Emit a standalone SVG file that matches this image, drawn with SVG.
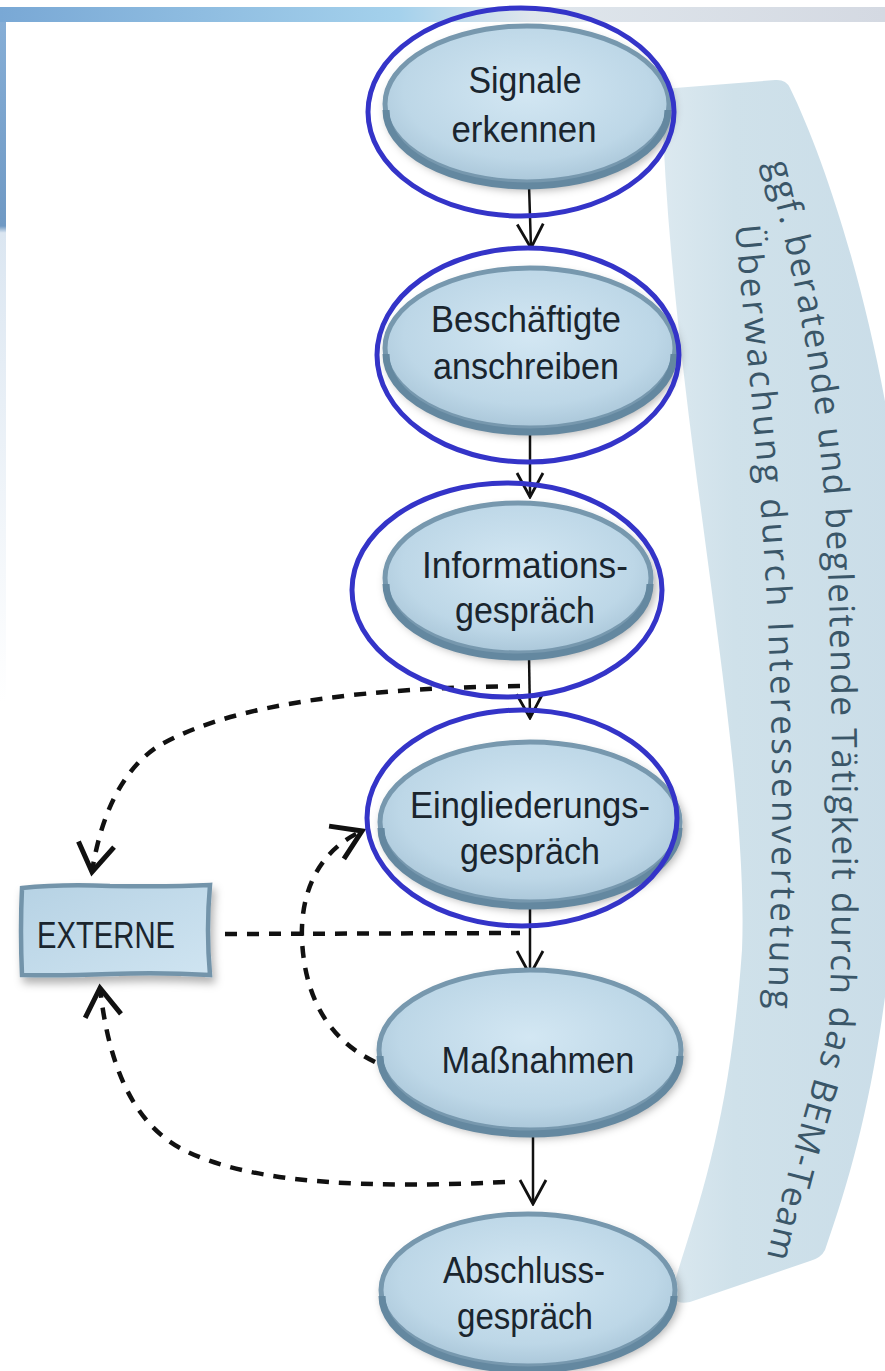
<svg xmlns="http://www.w3.org/2000/svg" width="885" height="1371" viewBox="0 0 885 1371">
  <defs>
    <style>
      .lbl { font-family: "Liberation Sans", Arial, sans-serif; font-size: 37px; fill: #1a252e; text-anchor: middle; }
      .node-shape { fill: url(#nodeFill); stroke: #7798ae; stroke-width: 5; filter: url(#sh); }
      .node-under { fill: none; stroke: #6488a0; stroke-width: 7; }
      .ring { fill: none; stroke: #3434c8; stroke-width: 5; }
      .solid { fill: none; stroke: #111; stroke-width: 2.5; marker-end: url(#solidHead); }
      .dash { fill: none; stroke: #111; stroke-width: 4.5; stroke-dasharray: 12 10; }
      .dash-arrow { marker-end: url(#dashHead); }
      .bandtxt { font-family: "Open Sans", "DejaVu Sans", sans-serif; font-size: 35px; fill: #3a5668; }
    </style>
    <radialGradient id="nodeFill" cx="50%" cy="42%" r="62%">
      <stop offset="0" stop-color="#d3e7f3"/>
      <stop offset="0.7" stop-color="#bdd7e7"/>
      <stop offset="1" stop-color="#a6c3d6"/>
    </radialGradient>
    <linearGradient id="boxFill" x1="0" y1="0" x2="1" y2="1">
      <stop offset="0" stop-color="#b6d2e4"/>
      <stop offset="1" stop-color="#cfe4f1"/>
    </linearGradient>
    <linearGradient id="topBand" x1="0" y1="0" x2="1" y2="0">
      <stop offset="0" stop-color="#79a8d5"/>
      <stop offset="0.45" stop-color="#a4d1ec"/>
      <stop offset="0.6" stop-color="#dfe6ec"/>
      <stop offset="1" stop-color="#d4d9e2"/>
    </linearGradient>
    <linearGradient id="leftStrip" x1="0" y1="0" x2="0" y2="1">
      <stop offset="0" stop-color="#86aed6"/>
      <stop offset="0.3" stop-color="#6f99c4"/>
      <stop offset="0.31" stop-color="#dbe6f1"/>
      <stop offset="1" stop-color="#ffffff"/>
    </linearGradient>
    <linearGradient id="bandFill" x1="0" y1="0" x2="1" y2="0">
      <stop offset="0" stop-color="#dce9f0"/>
      <stop offset="0.3" stop-color="#cfe1ea"/>
      <stop offset="1" stop-color="#cadde8"/>
    </linearGradient>
    <filter id="sh" x="-20%" y="-20%" width="140%" height="150%">
      <feDropShadow dx="3" dy="6" stdDeviation="4" flood-color="#000" flood-opacity="0.3"/>
    </filter>
    <marker id="solidHead" viewBox="-2 -2 28 30" refX="24" refY="13" markerWidth="28" markerHeight="30" markerUnits="userSpaceOnUse" orient="auto">
      <path d="M 0 0 L 24 13 L 0 26" fill="none" stroke="#111" stroke-width="2.8"/>
    </marker>
    <marker id="dashHead" viewBox="-3 -3 36 46" refX="28" refY="20" markerWidth="36" markerHeight="46" markerUnits="userSpaceOnUse" orient="auto">
      <path d="M 0 2 L 28 20 L 0 38" fill="none" stroke="#111" stroke-width="5"/>
    </marker>
    <path id="p1" d="M 762 150 C 792 260, 817 380, 826 520 C 834 700, 834 900, 829 1030 C 817 1070, 792 1150, 764 1270"/>
    <path id="p2" d="M 734 215 C 749 380, 770 550, 772 760 C 773 880, 769 950, 768 1015"/>
  </defs>

  <rect x="0" y="0" width="885" height="1371" fill="#ffffff"/>
  <g id="frame">
    <rect x="0" y="7" width="885" height="15" fill="url(#topBand)"/>
    <rect x="0" y="22" width="6" height="680" fill="url(#leftStrip)"/>
  </g>

  <g id="band">
    <path d="M 662 100 Q 661 90 675 88 L 775 80 Q 786 79 790 88 C 830 170, 880 330, 900 500 L 900 850 C 885 1050, 860 1150, 825 1250 Q 821 1258 810 1261 L 690 1302 Q 672 1306 672 1290 C 700 1200, 730 1120, 742 950 C 750 750, 670 400, 662 100 Z" fill="url(#bandFill)"/>
    <text class="bandtxt"><textPath href="#p1" startOffset="14" textLength="1108" lengthAdjust="spacing">ggf. beratende und begleitende Tätigkeit durch das BEM-Team</textPath></text>
    <text class="bandtxt"><textPath href="#p2" startOffset="11" textLength="784" lengthAdjust="spacing">Überwachung durch Interessenvertetung</textPath></text>
  </g>

  <g id="connectors">
    <path class="solid" d="M 529 185 L 531 248"/>
    <path class="solid" d="M 530 432 L 530 497"/>
    <path class="solid" d="M 529 655 L 530 718"/>
    <path class="solid" d="M 530 903 L 530 975"/>
    <path class="solid" d="M 533 1132 L 533 1204"/>
    <path class="dash dash-arrow" d="M 520 686 C 380 688, 240 700, 160 745 C 120 770, 100 820, 92 872"/>
    <path class="dash dash-arrow" d="M 375 1062 C 330 1040, 305 1000, 302 940 C 300 890, 320 850, 362 831"/>
    <path class="dash" d="M 225 934 L 520 933"/>
    <path class="dash dash-arrow" d="M 505 1182 C 380 1188, 250 1186, 180 1148 C 130 1120, 108 1060, 100 988"/>
  </g>

  <g id="node-signale">
    <ellipse class="node-shape" cx="527" cy="104" rx="142" ry="78"/>
    <path class="node-under" d="M 386 110 A 141 76 0 0 0 668 110"/>
    <text class="lbl" x="525" y="93" textLength="113" lengthAdjust="spacingAndGlyphs">Signale</text>
    <text class="lbl" x="524" y="142" textLength="145" lengthAdjust="spacingAndGlyphs">erkennen</text>
  </g>

  <g id="node-anschreiben">
    <ellipse class="node-shape" cx="530" cy="348" rx="145" ry="80"/>
    <path class="node-under" d="M 386 354 A 144 78 0 0 0 674 354"/>
    <text class="lbl" x="526" y="332" textLength="190" lengthAdjust="spacingAndGlyphs">Beschäftigte</text>
    <text class="lbl" x="526" y="379" textLength="186" lengthAdjust="spacingAndGlyphs">anschreiben</text>
  </g>

  <g id="node-information">
    <ellipse class="node-shape" cx="518" cy="578" rx="133" ry="75"/>
    <path class="node-under" d="M 386 584 A 132 73 0 0 0 650 584"/>
    <text class="lbl" x="525" y="578" textLength="206" lengthAdjust="spacingAndGlyphs">Informations-</text>
    <text class="lbl" x="525" y="623" textLength="140" lengthAdjust="spacingAndGlyphs">gespräch</text>
  </g>

  <g id="node-eingliederung">
    <ellipse class="node-shape" cx="530" cy="822" rx="150" ry="80"/>
    <path class="node-under" d="M 381 828 A 149 78 0 0 0 679 828"/>
    <text class="lbl" x="530" y="818" textLength="240" lengthAdjust="spacingAndGlyphs">Eingliederungs-</text>
    <text class="lbl" x="530" y="864" textLength="140" lengthAdjust="spacingAndGlyphs">gespräch</text>
  </g>

  <g id="node-massnahmen">
    <ellipse class="node-shape" cx="530" cy="1050" rx="151" ry="80"/>
    <path class="node-under" d="M 380 1056 A 150 78 0 0 0 680 1056"/>
    <text class="lbl" x="538" y="1073" textLength="193" lengthAdjust="spacingAndGlyphs">Maßnahmen</text>
  </g>

  <g id="node-abschluss">
    <ellipse class="node-shape" cx="528" cy="1290" rx="147" ry="76"/>
    <path class="node-under" d="M 382 1296 A 146 74 0 0 0 674 1296"/>
    <text class="lbl" x="524" y="1283" textLength="162" lengthAdjust="spacingAndGlyphs">Abschluss-</text>
    <text class="lbl" x="525" y="1329" textLength="136" lengthAdjust="spacingAndGlyphs">gespräch</text>
  </g>

  <g id="node-externe">
    <path d="M 22 888 Q 60 884 110 886 Q 170 887 210 885 Q 206 930 210 975 Q 160 972 110 974 Q 60 976 22 975 Q 20 930 22 888 Z" fill="url(#boxFill)" stroke="#7394aa" stroke-width="4.5" filter="url(#sh)"/>
    <text class="lbl" x="106" y="948" font-size="42" textLength="138" lengthAdjust="spacingAndGlyphs">EXTERNE</text>
  </g>

  <g id="highlights">
    <ellipse class="ring" cx="521" cy="112" rx="153" ry="104"/>
    <ellipse class="ring" cx="528" cy="355" rx="151" ry="107"/>
    <ellipse class="ring" cx="507" cy="590" rx="155" ry="107"/>
    <ellipse class="ring" cx="522" cy="818" rx="155" ry="108"/>
  </g>
</svg>
